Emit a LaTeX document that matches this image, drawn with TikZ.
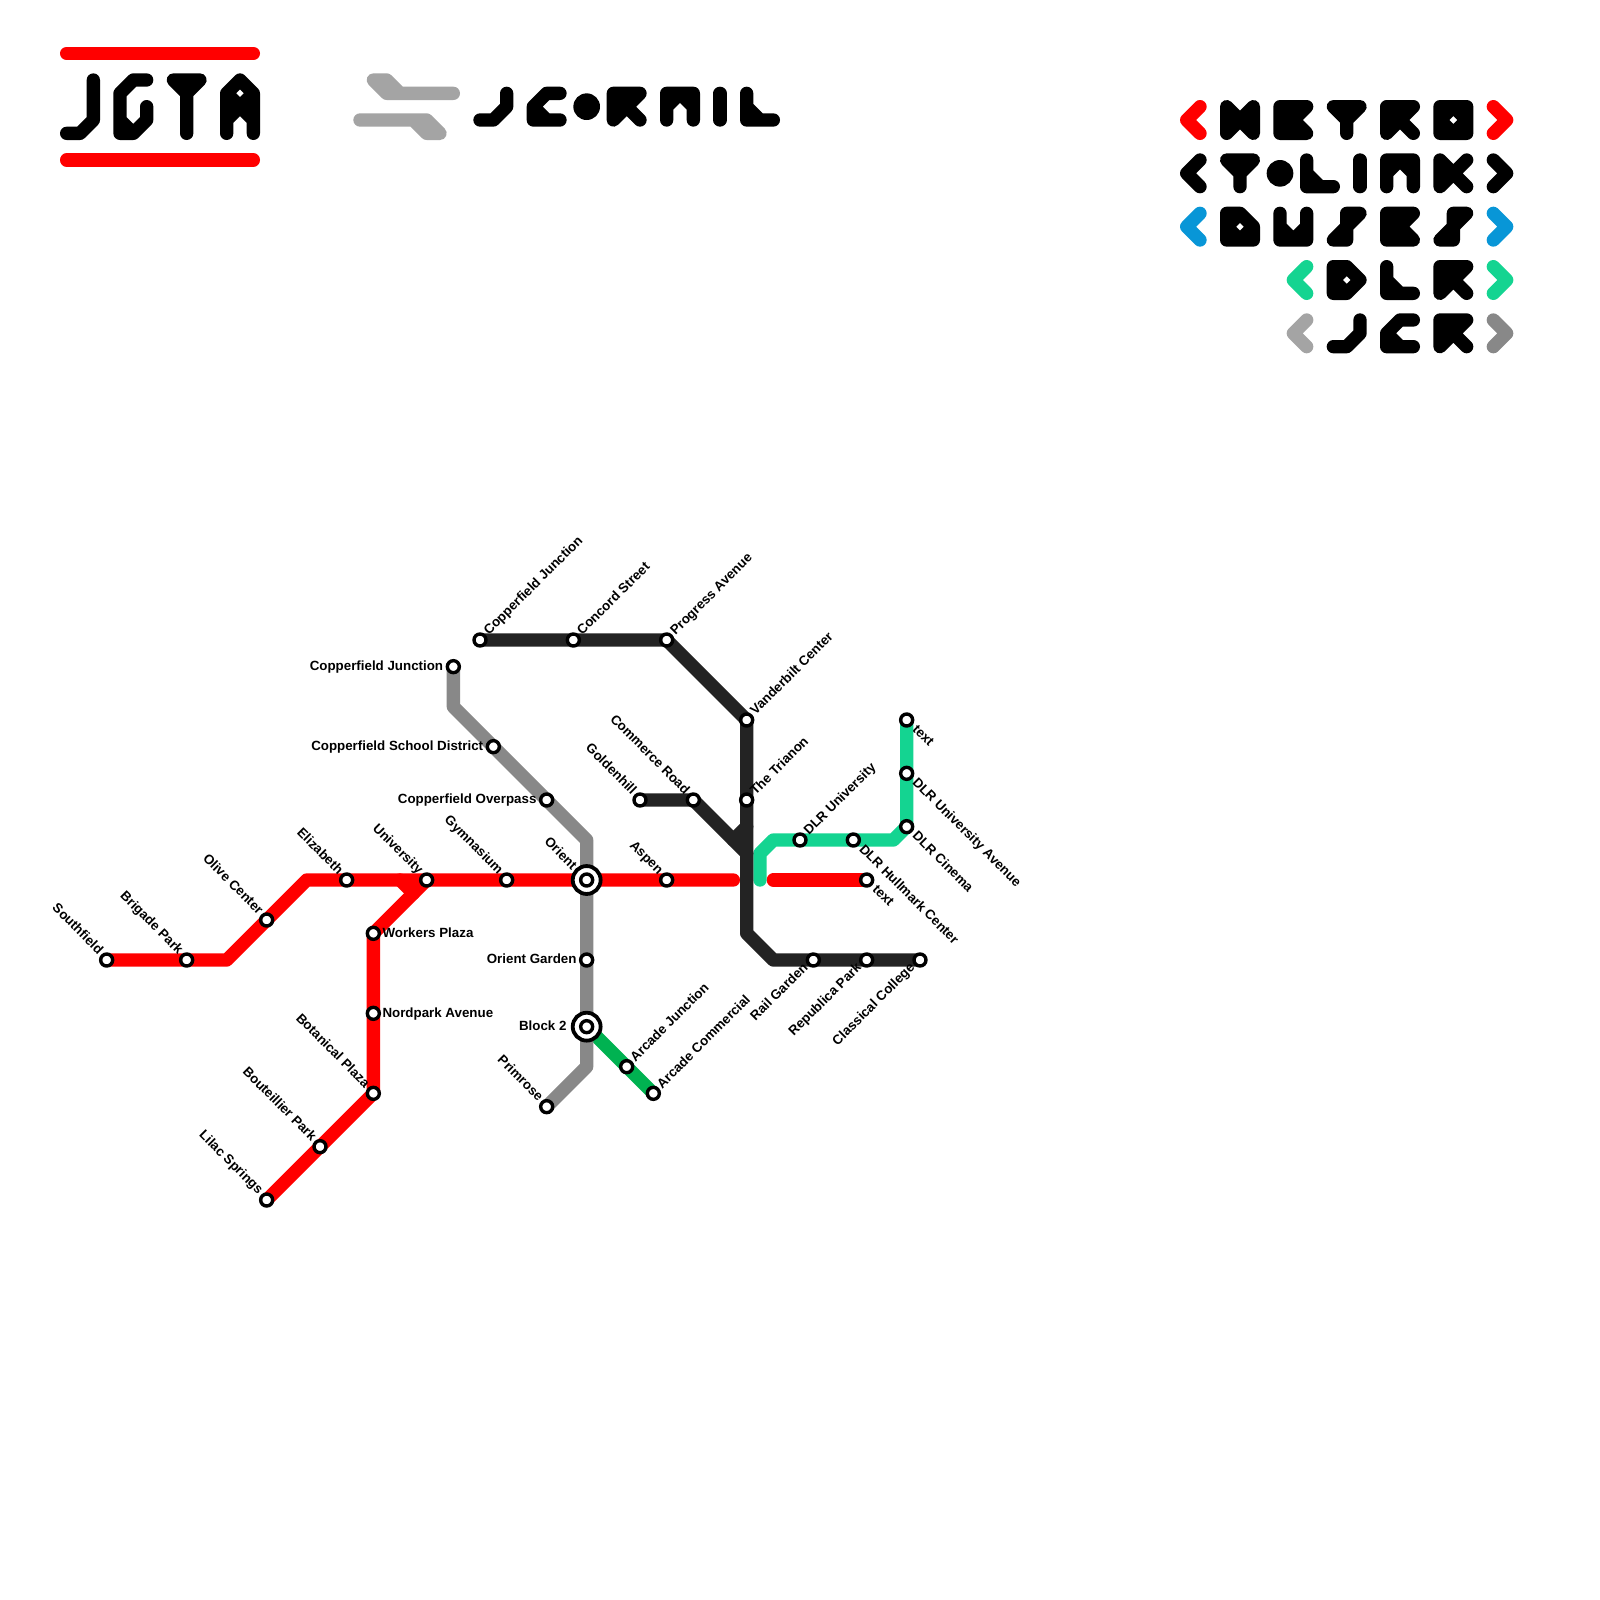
\documentclass[tikz,border=0pt]{standalone}
\usepackage{fontspec}
\newfontfamily\lblfont{Liberation Sans Bold}
\pgfdeclarelayer{lines}
\pgfsetlayers{lines,main}
\definecolor{cRed}{HTML}{FF0000}
\definecolor{cBlk}{HTML}{232323}
\definecolor{cGry}{HTML}{888888}
\definecolor{cLgry}{HTML}{A4A4A4}
\definecolor{cDlr}{HTML}{14D491}
\definecolor{cGrn}{HTML}{00B251}
\definecolor{cBlu}{HTML}{0896D7}
\tikzset{
  x=13.3333pt,y=-13.3333pt,
  rail/.style={line width=13.3333pt,line cap=round,line join=round},
  glyph/.style={line width=13.3333pt,line cap=round,line join=round},
  stn/.style={circle,draw=black,fill=white,line width=3.4pt,inner sep=0pt,minimum size=12pt,outer sep=0pt},
  ring/.style={circle,draw=black,fill=white,line width=3.8pt,inner sep=0pt,minimum size=27.9pt,outer sep=0pt},
  lbl/.style={font=\lblfont\fontsize{13.3333pt}{14pt}\selectfont,inner sep=0pt,text=black,text height=9.6pt,text depth=0pt},
  gM/.pic={\draw[glyph] (0,2)--(0,0)--(1,1)--(2,0)--(2,2)--(1,1)--(0,2);},
  gE/.pic={\draw[glyph] (2,0)--(0,0)--(0,2)--(2,2)--(1,1)--(2,0) (0,1)--(1,1);},
  gT/.pic={\draw[glyph] (1,2)--(1,1)--(0,0)--(2,0)--(1,1);},
  gR/.pic={\draw[glyph] (2,0)--(0,0)--(0,2)--(1,1)--(2,2) (2,0)--(1,1)--(0,0) (0,1)--(1,1);},
  gO/.pic={\draw[glyph] (0,0)--(2,0)--(2,2)--(0,2)--cycle (1,0)--(2,1)--(1,2)--(0,1)--cycle;},
  gL/.pic={\draw[glyph] (0,0)--(0,2)--(2,2) (0,1)--(1,2);},
  gI/.pic={\draw[glyph] (0,0)--(0,2);},
  gN/.pic={\draw[glyph] (0,2)--(0,0)--(2,0)--(2,2) (0,1)--(1,0)--(2,1);},
  gK/.pic={\draw[glyph] (0,0)--(0,2)--(1,1)--(2,2) (0,0)--(1,1)--(2,0) (0,1)--(1,1);},
  gD/.pic={\draw[glyph] (0,0)--(1,0)--(2,1)--(2,2)--(0,2)--cycle (1,0)--(0,1)--(1,2)--(2,1);},
  gU/.pic={\draw[glyph] (0,0)--(0,2)--(2,2)--(2,0) (0,1)--(1,2)--(2,1);},
  gS/.pic={\draw[glyph] (1,1)--(1,0)--(2,0)--(1,1)--(0,2)--(1,2)--cycle;},
  gP/.pic={\draw[glyph] (0,0)--(1,0)--(2,1)--(1,2)--(0,2)--cycle (1,0)--(0,1)--(1,2);},
  gJ/.pic={\draw[glyph] (2,0)--(2,1)--(1,2)--(0,2);},
  gC/.pic={\draw[glyph] (2,0)--(1,0)--(0,1)--(0,2)--(2,2)--(1,2)--(0,1);},
  gLt/.pic={\draw[glyph] (1,0)--(0,1)--(1,2);},
  gGt/.pic={\draw[glyph] (0,0)--(1,1)--(0,2);},
  gDot/.pic={\fill (0,0) circle[radius=13.3333pt];},
}
% explicit pt offsets are in page directions: +y is up
\newcommand\st[5]{%
  \node[stn] (#1) at (#2,#3) {};
  \ifx#4l\path (#1) ++(-10pt,1pt) node[lbl,anchor=east] (#1-l) {#5};\fi
  \ifx#4r\path (#1) ++(9pt,1pt) node[lbl,anchor=west] (#1-l) {#5};\fi
  \ifx#4u\path (#1) ++(-5.3pt,8.3pt) node[lbl,rotate=-45,anchor=east] (#1-l) {#5};\fi
  \ifx#4v\path (#1) ++(8.5pt,-6.5pt) node[lbl,rotate=-45,anchor=west] (#1-l) {#5};\fi
  \ifx#4w\path (#1) ++(5.5pt,7.5pt) node[lbl,rotate=45,anchor=west] (#1-l) {#5};\fi
  \ifx#4x\path (#1) ++(-8pt,-5pt) node[lbl,rotate=45,anchor=east] (#1-l) {#5};\fi
}
\begin{document}
\begin{tikzpicture}
\useasboundingbox (0,0) rectangle (120,120);
% stations
\st{sf}{8}{72}{u}{Southfield}
\st{bp}{14}{72}{u}{Brigade Park}
\st{oc}{20}{69}{u}{Olive Center}
\st{el}{26}{66}{u}{Elizabeth}
\st{un}{32}{66}{u}{University}
\st{gy}{38}{66}{u}{Gymnasium}
\node[ring] (orr) at (44,66) {};
\node[stn] (or) at (44,66) {};
\path (or) ++(-11.5pt,13pt) node[lbl,rotate=-45,anchor=east] (or-l) {Orient};
\st{as}{50}{66}{u}{Aspen}
\st{tx}{65}{66}{v}{text}
\st{wp}{28}{70}{r}{Workers Plaza}
\st{np}{28}{76}{r}{Nordpark Avenue}
\st{bo}{28}{82}{u}{Botanical Plaza}
\st{bt}{24}{86}{u}{Bouteillier Park}
\st{ls}{20}{90}{u}{Lilac Springs}
\st{cj}{34}{50}{l}{Copperfield Junction}
\st{cs}{37}{56}{l}{Copperfield School District}
\st{co}{41}{60}{l}{Copperfield Overpass}
\st{og}{44}{72}{l}{Orient Garden}
\node[ring] (b2r) at (44,77) {};
\node[stn] (b2) at (44,77) {};
\path (b2) ++(-20pt,1pt) node[lbl,anchor=east] (b2-l) {Block 2};
\st{pr}{41}{83}{u}{Primrose}
\st{aj}{47}{80}{w}{Arcade Junction}
\st{ac}{49}{82}{w}{Arcade Commercial}
\st{kj}{36}{48}{w}{Copperfield Junction}
\st{kc}{43}{48}{w}{Concord Street}
\st{pa}{50}{48}{w}{Progress Avenue}
\st{vc}{56}{54}{w}{Vanderbilt Center}
\st{tt}{56}{60}{w}{The Trianon}
\st{gh}{48}{60}{u}{Goldenhill}
\st{cr}{52}{60}{u}{Commerce Road}
\st{rg}{61}{72}{x}{Rail Garden}
\st{rp}{65}{72}{x}{Republica Park}
\st{cc}{69}{72}{x}{Classical College}
\st{du}{60}{63}{w}{DLR University}
\st{dh}{64}{63}{v}{DLR Hullmark Center}
\st{dc}{68}{62}{v}{DLR Cinema}
\st{da}{68}{58}{v}{DLR University Avenue}
\st{dt}{68}{54}{v}{text}
% free ends and bends
\coordinate (r1) at (17,72); \coordinate (r2) at (23,66); \coordinate (r3) at (55,66);
\coordinate (r4) at (58,66); \coordinate (r5) at (31,67); \coordinate (r6) at (30,66);
\coordinate (g1) at (34,53); \coordinate (g2) at (44,63); \coordinate (g3) at (44,80);
\coordinate (b1) at (56,70); \coordinate (b2a) at (58,72); \coordinate (b3) at (56,64);
\coordinate (b4) at (55,63); \coordinate (b5) at (56,62);
\coordinate (d1) at (57,66); \coordinate (d2) at (57,64); \coordinate (d3) at (58,63); \coordinate (d4) at (67,63);
\begin{pgfonlayer}{lines}
\fill[white] (0,0) rectangle (120,120);
\draw[rail,cGrn] (b2.center)--(aj.center)--(ac.center);
\draw[rail,cGry] (cj.center)--(g1)--(cs.center)--(co.center)--(g2)--(or.center)--(og.center)--(b2.center)--(g3)--(pr.center);
\draw[rail,cRed] (sf.center)--(bp.center)--(r1)--(oc.center)--(r2)--(el.center)--(un.center)--(gy.center)--(or.center)--(as.center)--(r3);
\draw[rail,cRed] (r4)--(tx.center);
\draw[rail,cRed] (ls.center)--(bt.center)--(bo.center)--(np.center)--(wp.center)--(un.center);
\draw[rail,cRed] (r5)--(r6);
\draw[rail,cDlr] (d1)--(d2)--(d3)--(du.center)--(dh.center)--(d4)--(dc.center)--(da.center)--(dt.center);
\draw[rail,cBlk] (kj.center)--(kc.center)--(pa.center)--(vc.center)--(tt.center)--(b1)--(b2a)--(rg.center)--(rp.center)--(cc.center);
\draw[rail,cBlk] (gh.center)--(cr.center)--(b3);
\draw[rail,cBlk] (b4)--(b5);
\end{pgfonlayer}
% JGTA logo
\coordinate (ba) at (5,4); \coordinate (bb) at (19,4); \coordinate (bc) at (5,12); \coordinate (bd) at (19,12);
\draw[rail,cRed] (ba)--(bb) (bc)--(bd);
\draw[glyph,black] (7,6)--(7,9)--(6,10)--(5,10);
\draw[glyph,black] (11,6)--(10,6)--(9,7)--(9,10)--(10,10)--(11,9)--(11,8) (9,9)--(10,10);
\draw[glyph,black] (14,10)--(14,7)--(13,6)--(15,6)--(14,7);
\draw[glyph,black] (17,10)--(17,7)--(18,6)--(19,7)--(19,10) (17,7)--(18,8)--(19,7) (17,9)--(18,8)--(19,9);
% JC.RAIL logo
\fill[cLgry,draw=cLgry,line width=13.3333pt,line join=round] (28,6)--(29,6)--(30,7)--(34,7)--(29,7)--cycle;
\fill[cLgry,draw=cLgry,line width=13.3333pt,line join=round] (27,9)--(32,9)--(33,10)--(32,10)--(31,9)--cycle;
\pic[black] at (36,7) {gJ};
\pic[black] at (40,7) {gC};
\pic[black] at (44,8) {gDot};
\pic[black] at (46,7) {gR};
\pic[black] at (50,7) {gN};
\pic[black] at (54,7) {gI};
\pic[black] at (56,7) {gL};
% line key
\pic[cRed] at (89,8) {gLt};
\pic[black] at (92,8) {gM};
\pic[black] at (96,8) {gE};
\pic[black] at (100,8) {gT};
\pic[black] at (104,8) {gR};
\pic[black] at (108,8) {gO};
\pic[cRed] at (112,8) {gGt};
\pic[black] at (89,12) {gLt};
\pic[black] at (92,12) {gT};
\pic[black] at (96,13) {gDot};
\pic[black] at (98,12) {gL};
\pic[black] at (102,12) {gI};
\pic[black] at (104,12) {gN};
\pic[black] at (108,12) {gK};
\pic[black] at (112,12) {gGt};
\pic[cBlu] at (89,16) {gLt};
\pic[black] at (92,16) {gD};
\pic[black] at (96,16) {gU};
\pic[black] at (100,16) {gS};
\pic[black] at (104,16) {gE};
\pic[black] at (108,16) {gS};
\pic[cBlu] at (112,16) {gGt};
\pic[cDlr] at (97,20) {gLt};
\pic[black] at (100,20) {gP};
\pic[black] at (104,20) {gL};
\pic[black] at (108,20) {gR};
\pic[cDlr] at (112,20) {gGt};
\pic[cLgry] at (97,24) {gLt};
\pic[black] at (100,24) {gJ};
\pic[black] at (104,24) {gC};
\pic[black] at (108,24) {gR};
\pic[cGry] at (112,24) {gGt};
\end{tikzpicture}
\end{document}
